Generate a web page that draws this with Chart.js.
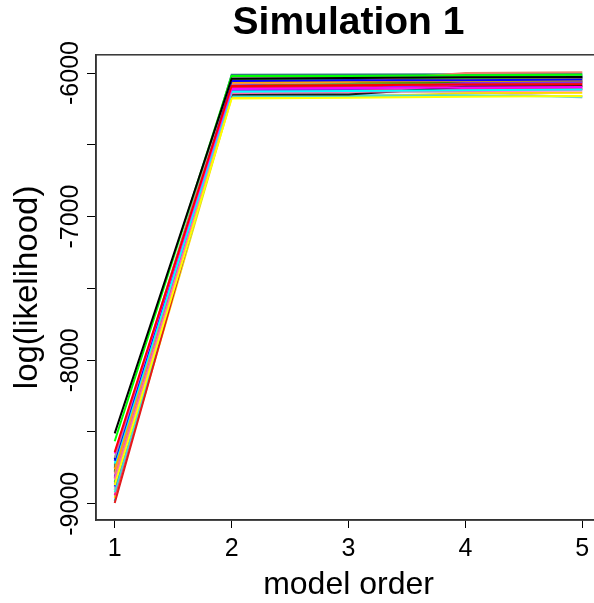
<!DOCTYPE html>
<html>
<head>
<meta charset="utf-8">
<script src="https://cdn.jsdelivr.net/npm/chart.js@4"></script>
<style>
  html, body { margin: 0; padding: 0; background: #fff; overflow: hidden; }
  canvas { display: block; }
</style>
</head>
<body>
<canvas id="llChart" width="601" height="603"></canvas>
<script>
// Model orders on the x axis
const orders = [1, 2, 3, 4, 5];

// Log-likelihood of each simulation run, one array per model order
const ll1 = [-8510, -8565, -8640, -8650, -8680, -8700, -8720, -8870, -8760, -8790,
             -8740, -8830, -8810, -8780, -8690, -8995, -8850, -8880, -8920, -8940,
             -8960, -8905, -8730, -8950, -8860, -8770, -8820, -8900, -8750, -8980];
const ll2 = [-6040, -6020, -6090, -6110, -6030, -6055, -6130, -6178, -6065, -6075,
             -6012, -6140, -6120, -6060, -6150, -6100, -6045, -6085, -6160, -6125,
             -6170, -6140, -6070, -6155, -6105, -6080, -6095, -6130, -6050, -6025];
const ll3 = [-6035, -6020, -6085, -6105, -6028, -6050, -6125, -6172, -6060, -6060,
             -6010, -6130, -6115, -6065, -6150, -6100, -6040, -6035, -6160, -6120,
             -6165, -6135, -6055, -6150, -6100, -6078, -6090, -6128, -6045, -6025];
const ll4 = [-6030, -6015, -6080, -6100, -6025, -6050, -6120, -6165, -6055, -6000,
             -6008, -6125, -6070, -6060, -6095, -6098, -6035, -6030, -6155, -6110,
             -6140, -6130, -6045, -6160, -6085, -6075, -6065, -6115, -6040, -6022];
const ll5 = [-6028, -6012, -6078, -6098, -6020, -6045, -6115, -6160, -6050, -5995,
             -6005, -6122, -6065, -6058, -6090, -6095, -6030, -6025, -6165, -6110,
             -6138, -6170, -6040, -6160, -6080, -6070, -6060, -6112, -6035, -6018];

// One colour per run
const runColors = ['#000000', '#00FF00', '#FF0000', '#FF00FF', '#9E9E9E', '#0000FF',
                   '#00FFFF', '#FFFF00', '#FFA500', '#F08070', '#2F7F7F', '#FF69B4',
                   '#8A2BE2', '#008B00', '#1A1A1A', '#E41A1C', '#32CD32', '#1E3CFF',
                   '#40E0D0', '#FF1493', '#FFD700', '#C8C8C8', '#FF8C00', '#87CEFA',
                   '#9932CC', '#6B8E23', '#A0522D', '#FF00AA', '#000080', '#00CED1'];

// Axis ticks
const xTicks = [1, 2, 3, 4, 5];
const yTicks = [-9000, -8500, -8000, -7500, -7000, -6500, -6000];
const yLabels = [-9000, -8000, -7000, -6000];

const byOrder = [ll1, ll2, ll3, ll4, ll5];
const datasets = runColors.map((col, i) => ({
    data: orders.map((o, k) => ({ x: o, y: byOrder[k][i] })),
    borderColor: col,
    borderWidth: 2,
    pointRadius: 0,
    tension: 0,
    fill: false
}));

// Frame round the plot region plus rotated y tick labels
const framePlugin = {
    id: 'frame',
    afterDraw(chart) {
        const { ctx, chartArea } = chart;
        ctx.save();
        ctx.strokeStyle = '#333';
        ctx.lineWidth = 1.5;
        ctx.strokeRect(chartArea.left, chartArea.top,
                       chartArea.right - chartArea.left, chartArea.bottom - chartArea.top);

        const yScale = chart.scales.y;
        ctx.fillStyle = '#000';
        ctx.font = '25px "Liberation Sans", Arial, sans-serif';
        ctx.textAlign = 'center';
        ctx.textBaseline = 'middle';
        yLabels.forEach(v => {
            ctx.save();
            ctx.translate(71, yScale.getPixelForValue(v));
            ctx.rotate(-Math.PI / 2);
            ctx.fillText(String(v), 0, 0);
            ctx.restore();
        });
        ctx.restore();
    }
};

const llChart = new Chart(document.getElementById('llChart').getContext('2d'), {
    type: 'line',
    data: { datasets: datasets },
    plugins: [framePlugin],
    options: {
        responsive: false,
        animation: false,
        layout: { padding: 0 },
        plugins: {
            legend: { display: false },
            tooltip: { enabled: false },
            title: {
                display: true,
                text: 'Simulation 1',
                color: '#000',
                fullSize: false,
                font: { family: '"Liberation Sans", Arial, sans-serif', size: 39, weight: 'bold', lineHeight: 1.2 },
                padding: { top: 0, bottom: 8 }
            }
        },
        scales: {
            x: {
                type: 'linear',
                min: 0.84,
                max: 5.16,
                afterBuildTicks: scale => { scale.ticks = xTicks.map(v => ({ value: v })); },
                afterFit: scale => { scale.height = 83; },
                grid: { display: true, drawOnChartArea: false, drawTicks: true, tickLength: 8, color: '#000' },
                border: { display: true, color: '#333', width: 1.5 },
                ticks: {
                    color: '#000',
                    padding: 6,
                    maxRotation: 0,
                    font: { family: '"Liberation Sans", Arial, sans-serif', size: 25 }
                },
                title: {
                    display: true,
                    text: 'model order',
                    color: '#000',
                    font: { family: '"Liberation Sans", Arial, sans-serif', size: 32, lineHeight: 1.1 },
                    padding: { top: 0, bottom: 0 }
                }
            },
            y: {
                type: 'linear',
                min: -9113,
                max: -5873,
                afterBuildTicks: scale => { scale.ticks = yTicks.map(v => ({ value: v })); },
                afterFit: scale => { scale.width = 96; },
                grid: { display: true, drawOnChartArea: false, drawTicks: true, tickLength: 9, color: '#000' },
                border: { display: true, color: '#333', width: 1.5 },
                ticks: { display: false },
                title: {
                    display: true,
                    text: 'log(likelihood)',
                    color: '#000',
                    font: { family: '"Liberation Sans", Arial, sans-serif', size: 33, lineHeight: 1.2 },
                    padding: { top: 8, bottom: 0 }
                }
            }
        }
    }
});
</script>
</body>
</html>
